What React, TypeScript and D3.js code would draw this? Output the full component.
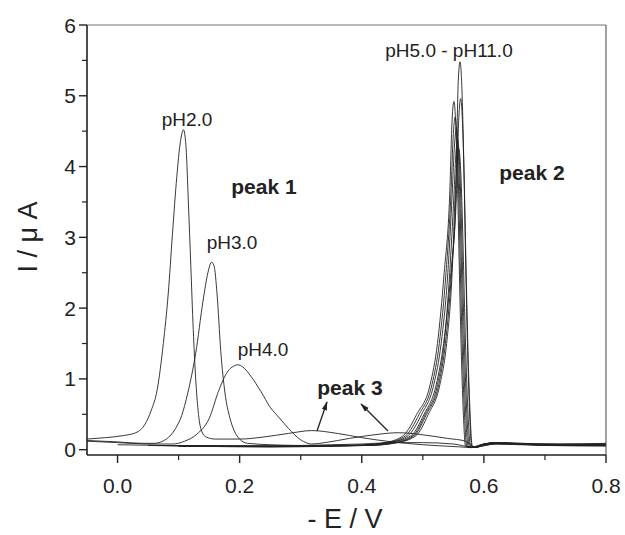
import React from "react";
import * as d3 from "d3";

type Pt = [number, number];

const xTicks = [0.0, 0.2, 0.4, 0.6, 0.8];
const xMinor = [-0.1, 0.1, 0.3, 0.5, 0.7];
const yTicks = [0, 1, 2, 3, 4, 5, 6];
const yMinor = [0.5, 1.5, 2.5, 3.5, 4.5, 5.5];

const pH2: Pt[] = [[-0.05,0.15],[-0.02,0.17],[0.01,0.2],[0.03,0.24],[0.045,0.36],[0.055,0.55],[0.065,0.85],[0.075,1.5],[0.083,2.2],[0.09,3.05],[0.097,3.85],[0.103,4.35],[0.108,4.52],[0.112,4.3],[0.116,3.5],[0.12,2.6],[0.124,1.7],[0.128,1.0],[0.132,0.55],[0.137,0.28],[0.145,0.18],[0.16,0.15],[0.2,0.15],[0.24,0.18],[0.28,0.23],[0.318,0.27],[0.36,0.23],[0.4,0.17],[0.45,0.11],[0.5,0.07],[0.56,0.04],[0.58,0.03],[0.62,0.08],[0.7,0.07],[0.8,0.07]];
const pH3: Pt[] = [[-0.05,0.13],[0.0,0.11],[0.04,0.09],[0.06,0.09],[0.08,0.15],[0.095,0.3],[0.105,0.48],[0.115,0.8],[0.128,1.36],[0.14,2.1],[0.148,2.5],[0.154,2.65],[0.158,2.6],[0.163,2.2],[0.169,1.4],[0.176,0.8],[0.184,0.45],[0.191,0.27],[0.2,0.15],[0.213,0.09],[0.25,0.07],[0.3,0.06],[0.35,0.07],[0.4,0.08],[0.45,0.1],[0.5,0.1],[0.55,0.08],[0.58,0.04],[0.62,0.08],[0.7,0.06],[0.8,0.06]];
const pH4: Pt[] = [[-0.05,0.12],[0.0,0.1],[0.05,0.08],[0.09,0.08],[0.11,0.12],[0.13,0.22],[0.15,0.44],[0.166,0.84],[0.18,1.1],[0.19,1.18],[0.197,1.2],[0.205,1.17],[0.219,1.03],[0.235,0.82],[0.25,0.6],[0.265,0.45],[0.28,0.3],[0.3,0.14],[0.318,0.08],[0.34,0.1],[0.38,0.16],[0.42,0.21],[0.46,0.24],[0.5,0.21],[0.54,0.16],[0.57,0.12],[0.585,0.04],[0.62,0.09],[0.7,0.06],[0.8,0.05]];
const pH5: Pt[] = [[0.1,0.05],[0.25,0.04],[0.39,0.06],[0.438,0.1],[0.468,0.2],[0.49,0.5],[0.512,0.92],[0.524,1.5],[0.535,2.5],[0.544,3.6],[0.548,4.67],[0.551,4.92],[0.554,4.58],[0.557,3.69],[0.56,2.46],[0.563,1.38],[0.566,0.59],[0.57,0.05],[0.576,0.03],[0.6,0.08],[0.62,0.1],[0.66,0.08],[0.72,0.07],[0.8,0.08]];
const pH6: Pt[] = [[0.05,0.06],[0.25,0.05],[0.41,0.06],[0.456,0.1],[0.486,0.2],[0.506,0.5],[0.526,0.92],[0.537,1.5],[0.547,2.5],[0.554,3.6],[0.558,5.2],[0.561,5.48],[0.564,5.1],[0.567,4.11],[0.57,2.74],[0.573,1.53],[0.576,0.66],[0.58,0.05],[0.586,0.03],[0.6,0.07],[0.62,0.1],[0.66,0.08],[0.72,0.06],[0.8,0.06]];
const pH7: Pt[] = [[0.1,0.05],[0.25,0.05],[0.405,0.07],[0.451,0.11],[0.481,0.2],[0.502,0.5],[0.522,0.92],[0.534,1.5],[0.546,2.5],[0.555,3.6],[0.559,4.7],[0.562,4.96],[0.565,4.61],[0.568,3.72],[0.571,2.48],[0.574,1.39],[0.577,0.6],[0.581,0.05],[0.587,0.03],[0.6,0.07],[0.62,0.09],[0.66,0.08],[0.72,0.07],[0.8,0.07]];
const pH8: Pt[] = [[0.0,0.07],[0.2,0.05],[0.395,0.06],[0.442,0.1],[0.472,0.2],[0.494,0.5],[0.515,0.92],[0.527,1.5],[0.538,2.5],[0.546,3.6],[0.55,4.47],[0.553,4.7],[0.556,4.37],[0.559,3.53],[0.562,2.35],[0.565,1.32],[0.568,0.56],[0.572,0.05],[0.578,0.03],[0.6,0.08],[0.62,0.1],[0.66,0.09],[0.72,0.08],[0.8,0.08]];
const pH9: Pt[] = [[0.1,0.05],[0.25,0.05],[0.4,0.06],[0.446,0.1],[0.476,0.2],[0.498,0.5],[0.518,0.92],[0.53,1.5],[0.541,2.5],[0.548,3.6],[0.552,4.32],[0.555,4.55],[0.558,4.23],[0.561,3.41],[0.564,2.28],[0.567,1.27],[0.57,0.55],[0.574,0.05],[0.58,0.03],[0.6,0.08],[0.62,0.1],[0.66,0.08],[0.72,0.07],[0.8,0.06]];
const pH10: Pt[] = [[0.05,0.06],[0.25,0.04],[0.408,0.06],[0.454,0.1],[0.484,0.2],[0.504,0.5],[0.524,0.92],[0.535,1.5],[0.544,2.5],[0.551,3.6],[0.554,4.16],[0.557,4.38],[0.56,4.07],[0.563,3.29],[0.566,2.19],[0.569,1.23],[0.572,0.53],[0.576,0.05],[0.582,0.03],[0.6,0.07],[0.62,0.09],[0.66,0.08],[0.72,0.07],[0.8,0.07]];
const pH11: Pt[] = [[0.1,0.06],[0.25,0.05],[0.412,0.06],[0.459,0.1],[0.489,0.2],[0.509,0.5],[0.528,0.92],[0.539,1.5],[0.548,2.5],[0.553,3.6],[0.556,4.04],[0.559,4.25],[0.562,3.95],[0.565,3.19],[0.568,2.13],[0.571,1.19],[0.574,0.51],[0.578,0.05],[0.584,0.03],[0.6,0.08],[0.62,0.1],[0.66,0.09],[0.72,0.08],[0.8,0.09]];

const seriesList = [pH2, pH3, pH4, pH5, pH6, pH7, pH8, pH9, pH10, pH11];

const W = 625, H = 535;
const left = 87, right = 606, top = 25, bottom = 455;

export default function App() {
  const x = d3.scaleLinear().domain([-0.05, 0.8]).range([left, right]);
  const y = d3.scaleLinear().domain([-0.075, 6]).range([bottom, top]);
  const line = d3.line<Pt>().x(d => x(d[0])).y(d => y(d[1])).curve(d3.curveMonotoneX);
  const ink = "#222";
  const font = "'Liberation Sans', Arial, sans-serif";
  return (
    <svg width={W} height={H} style={{ position: "absolute", left: 0, top: 0, background: "#fff" }} fontFamily={font}>
      <defs>
        <marker id="ah" viewBox="0 0 12 8" refX="11" refY="4" markerWidth="9" markerHeight="6" orient="auto" markerUnits="userSpaceOnUse">
          <path d="M0,0.5 L12,4 L0,7.5 Z" fill={ink} />
        </marker>
        <clipPath id="pc"><rect x={left} y={top} width={right - left} height={bottom - top} /></clipPath>
      </defs>
      <g clipPath="url(#pc)">
        {seriesList.map((s, i) => (
          <path key={i} d={line(s) || ""} fill="none" stroke={ink} strokeWidth={0.9} />
        ))}
      </g>
      {/* frame */}
      <line x1={left} x2={right} y1={top} y2={top} stroke="#777" strokeWidth={1} />
      <line x1={right} x2={right} y1={top} y2={bottom} stroke="#444" strokeWidth={1} />
      <line x1={left} x2={left} y1={top} y2={bottom} stroke={ink} strokeWidth={1.6} />
      <line x1={left} x2={right} y1={bottom} y2={bottom} stroke={ink} strokeWidth={1.6} />
      {/* x ticks */}
      {xTicks.map(t => (
        <g key={"xt" + t}>
          <line x1={x(t)} x2={x(t)} y1={bottom} y2={bottom + 8} stroke={ink} strokeWidth={1.4} />
          <text x={x(t)} y={bottom + 38} textAnchor="middle" fontSize={21} fill={ink}>{t.toFixed(1)}</text>
        </g>
      ))}
      {xMinor.filter(t => t > -0.05).map(t => (
        <line key={"xm" + t} x1={x(t)} x2={x(t)} y1={bottom} y2={bottom + 5} stroke={ink} strokeWidth={1.2} />
      ))}
      {/* y ticks */}
      {yTicks.map(t => (
        <g key={"yt" + t}>
          <line x1={left - 8} x2={left} y1={y(t)} y2={y(t)} stroke={ink} strokeWidth={1.4} />
          <text x={left - 11} y={y(t) + 7.5} textAnchor="end" fontSize={21} fill={ink}>{t}</text>
        </g>
      ))}
      {yMinor.map(t => (
        <line key={"ym" + t} x1={left - 5} x2={left} y1={y(t)} y2={y(t)} stroke={ink} strokeWidth={1.2} />
      ))}
      {/* axis titles */}
      <text x={345} y={528} textAnchor="middle" fontSize={27} fill={ink}>- E / V</text>
      <text transform="translate(37,237) rotate(-90)" textAnchor="middle" fontSize={27} fill={ink}>I / μ A</text>
      {/* annotations */}
      <text x={187} y={126} textAnchor="middle" fontSize={19} fill={ink}>pH2.0</text>
      <text x={232} y={249} textAnchor="middle" fontSize={19} fill={ink}>pH3.0</text>
      <text x={263} y={356} textAnchor="middle" fontSize={19} fill={ink}>pH4.0</text>
      <text x={449} y={57} textAnchor="middle" fontSize={19} fill={ink}>pH5.0 - pH11.0</text>
      <text x={264} y={194} textAnchor="middle" fontSize={21} fontWeight="bold" fill={ink}>peak 1</text>
      <text x={532} y={180} textAnchor="middle" fontSize={21} fontWeight="bold" fill={ink}>peak 2</text>
      <text x={350} y={395} textAnchor="middle" fontSize={21} fontWeight="bold" fill={ink}>peak 3</text>
      <line x1={317} y1={431} x2={327} y2={402} stroke={ink} strokeWidth={1.3} markerEnd="url(#ah)" />
      <line x1={388} y1={431} x2={361} y2={404} stroke={ink} strokeWidth={1.3} markerEnd="url(#ah)" />
    </svg>
  );
}
